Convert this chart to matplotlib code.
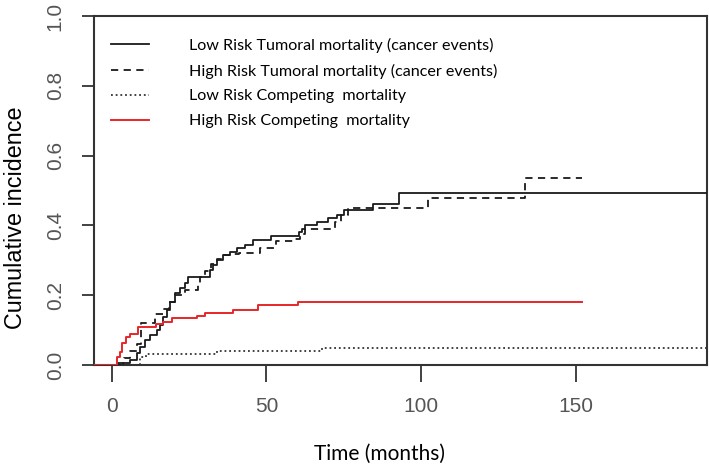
import numpy as np
import matplotlib.pyplot as plt

# Step-function data (time in months, cumulative incidence)
low_tum_t = [-6, 3.5, 5.8, 8, 9, 10.7, 12.3, 14.5, 15.5, 16.6, 17.7, 18.8, 20.4, 22, 23.6, 24.7,
             31.7, 32.8, 33.9, 36, 38.2, 40.5, 42.9, 45.7, 51.6, 60.4, 61.5, 62.6, 66.3, 70, 72.8,
             75, 84.6, 92.9, 196]
low_tum_v = [0, 0.007, 0.014, 0.033, 0.052, 0.072, 0.086, 0.10, 0.115, 0.138, 0.158, 0.181, 0.205,
             0.22, 0.234, 0.253, 0.272, 0.287, 0.30, 0.315, 0.325, 0.335, 0.344, 0.358, 0.37, 0.38,
             0.39, 0.40, 0.41, 0.42, 0.43, 0.444, 0.461, 0.494, 0.494]

high_tum_t = [-6, 2, 4, 6, 8, 9.5, 14, 16.5, 18.5, 20.5, 23.5, 27.8, 28.5, 30, 32, 34, 36, 38.5,
              41, 48, 53, 59, 61, 62.5, 72, 74, 76.5, 102.1, 133.6, 152]
high_tum_v = [0, 0.005, 0.02, 0.04, 0.06, 0.12, 0.145, 0.16, 0.18, 0.20, 0.215, 0.235, 0.253, 0.27,
              0.29, 0.305, 0.315, 0.318, 0.322, 0.335, 0.355, 0.36, 0.375, 0.39, 0.41, 0.43, 0.449,
              0.479, 0.535, 0.535]

low_comp_t = [-6, 9, 11, 34, 68, 196]
low_comp_v = [0, 0.022, 0.031, 0.041, 0.05, 0.05]

high_comp_t = [-6, 1.5, 2.5, 3.3, 4.5, 5.8, 8.5, 14.4, 16.5, 19.3, 27.4, 30, 39.3, 47.3, 60.3, 152]
high_comp_v = [0, 0.024, 0.038, 0.062, 0.081, 0.089, 0.11, 0.117, 0.124, 0.134, 0.14, 0.148,
               0.158, 0.172, 0.181, 0.181]

labels = ["Low Risk Tumoral mortality (cancer events)",
          "High Risk Tumoral mortality (cancer events)",
          "Low Risk Competing  mortality",
          "High Risk Competing  mortality"]

plt.rcParams['font.family'] = ['Liberation Sans', 'DejaVu Sans']

fig = plt.figure(figsize=(7.09, 4.66), dpi=100)
ax = fig.add_axes([94 / 709, 1 - 365 / 466, (707 - 94) / 709, (365 - 16) / 466])

ax.step(low_tum_t, low_tum_v, where='post', color='#1a1a1a', lw=1.3, label=labels[0], zorder=3)
ax.step(high_tum_t, high_tum_v, where='post', color='#1a1a1a', lw=1.3,
        linestyle=(0, (4, 3)), label=labels[1], zorder=3)
ax.step(low_comp_t, low_comp_v, where='post', color='#333333', lw=1.3,
        linestyle=(0, (1, 1.6)), label=labels[2], zorder=3)
ax.step(high_comp_t, high_comp_v, where='post', color='#e8262a', lw=1.4, label=labels[3], zorder=3)

ax.set_xlim(-5.8, 192.5)
ax.set_ylim(0, 1)
ax.set_xticks([0, 50, 100, 150])
ax.set_yticks([0, 0.2, 0.4, 0.6, 0.8, 1.0])
ax.set_yticklabels(['0.0', '0.2', '0.4', '0.6', '0.8', '1.0'], rotation=90, va='center')

for s in ax.spines.values():
    s.set_linewidth(1.5)
    s.set_color('#333333')

ax.tick_params(axis='x', length=12, width=1.3, color='#333333', pad=11,
               labelsize=15, labelcolor='#555555')
ax.tick_params(axis='y', length=9, width=1.3, color='#333333', pad=12,
               labelsize=15, labelcolor='#555555')

ax.set_xlabel('Time (months)', family='Lato', fontsize=15)
ax.xaxis.set_label_coords((379 - 94) / 613, -0.225)
ax.set_ylabel('Cumulative incidence', fontsize=16.8)
ax.yaxis.set_label_coords(-0.11, (365 - 218) / 349)

ax.legend(loc='upper left', frameon=False, prop={'family': 'Lato', 'size': 11.6},
          handlelength=2.35, handletextpad=2.45, labelspacing=0.66,
          bbox_to_anchor=(0.01, 0.97), borderaxespad=0.3)

fig.savefig('out.png', dpi=100)
